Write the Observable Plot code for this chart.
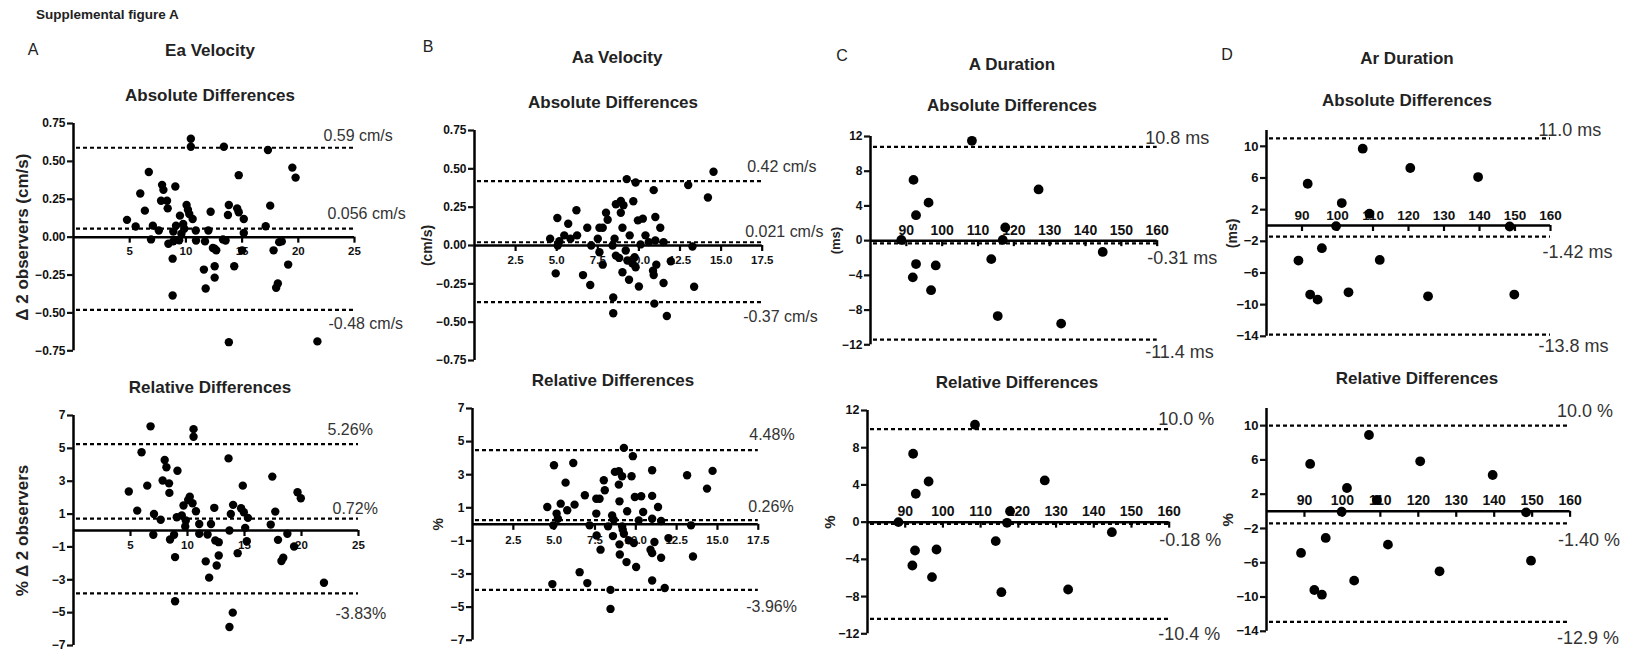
<!DOCTYPE html>
<html><head><meta charset="utf-8">
<script src="https://cdn.jsdelivr.net/npm/d3@7"></script>
<script src="https://cdn.jsdelivr.net/npm/@observablehq/plot@0.6"></script>
<style>
html,body{margin:0;padding:0;background:#fff;overflow:hidden;}
#fig{position:relative;width:1631px;height:653px;overflow:hidden;font-family:"Liberation Sans",Arial,sans-serif;color:#222;}
.lbl{position:absolute;transform:translate(-50%,-50%);white-space:nowrap;line-height:1;}
.panel{position:absolute;}
.panel svg{max-width:none !important;}
</style></head><body><div id="fig"></div>
<script>
// ---------- DATA ----------
// Ea Velocity – absolute differences (x: mean of 2 observers, y: difference cm/s)
const eaAbsX = [10.44,10.44,13.38,17.3,19.47,19.76,6.7,14.7,7.88,8.0,9.06,5.94,7.79,8.32,6.35,8.38,10.06,10.18,13.82,14.56,17.5,14.7,12.2,13.74,15.15,10.3,9.47,10.6,4.76,5.53,7.06,7.59,9.12,9.76,9.85,8.88,10.88,12.0,17.1,15.15,6.9,9.6,10.9,11.7,8.44,8.88,13.53,13.3,12.4,12.7,12.56,15.0,17.8,18.53,18.3,8.82,11.6,12.56,12.56,14.3,11.76,18.18,18.03,19.1,8.82,13.82,21.7,9.4];
const eaAbsY = [0.649,0.597,0.597,0.575,0.459,0.393,0.43,0.409,0.345,0.312,0.334,0.288,0.24,0.24,0.175,0.19,0.212,0.181,0.212,0.19,0.208,0.164,0.168,0.146,0.12,0.153,0.142,0.12,0.114,0.07,0.076,0.044,0.076,0.087,0.055,0.037,0.044,0.044,0.072,0.028,-0.015,0.022,-0.022,-0.028,-0.044,-0.028,-0.022,-0.015,-0.072,-0.087,-0.076,-0.087,-0.087,-0.028,-0.033,-0.142,-0.214,-0.192,-0.267,-0.192,-0.339,-0.306,-0.334,-0.181,-0.385,-0.693,-0.688,-0.02];
// Ea Velocity – relative differences (%)
const eaRelX = [6.76,10.53,10.53,5.97,13.6,8.0,8.15,9.12,6.47,7.82,8.38,8.41,17.44,14.85,4.85,19.65,19.94,10.2,10.06,10.44,9.65,10.74,5.59,7.06,12.35,14.0,14.7,14.94,15.3,13.8,17.7,17.3,7.65,9.06,9.5,9.85,9.8,11.03,12.06,15.06,13.68,7.0,8.82,11.03,11.76,8.47,12.44,12.74,15.2,17.94,18.76,19.35,14.4,12.74,8.91,11.6,12.56,18.4,18.24,11.9,21.97,8.91,13.97,13.68];
const eaRelY = [6.34,6.17,5.71,4.76,4.39,4.29,3.85,3.64,2.73,3.04,2.87,2.29,3.28,2.73,2.37,2.33,1.96,2.06,1.86,1.66,1.52,1.17,1.21,1.01,1.38,1.56,1.36,1.11,0.77,1.01,1.15,0.36,0.65,0.81,0.91,0.61,0.24,0.40,0.40,0.16,0.0,-0.26,-0.26,-0.2,-0.24,-0.55,-0.61,-0.71,-0.65,-0.57,-0.2,-0.97,-1.38,-1.52,-1.62,-1.88,-2.13,-1.66,-1.86,-2.87,-3.18,-4.31,-5.0,-5.87];
// Aa Velocity – absolute differences
const aaAbsX = [14.54,9.26,9.8,13.0,10.9,14.2,8.6,8.9,9.06,9.66,8.9,6.2,5.04,8.0,8.1,5.7,6.86,7.6,7.8,9.0,9.94,10.24,11.0,11.3,9.44,10.4,11.0,4.6,5.16,5.46,5.84,6.24,5.06,7.5,7.1,8.52,8.4,10.1,10.6,11.5,13.26,7.6,7.8,8.6,8.8,9.2,9.3,9.6,9.74,9.0,9.4,10.0,4.94,6.6,7.04,11.06,10.9,10.86,11.94,11.5,13.36,8.44,10.94,8.44,11.7,9.8];
const aaAbsY = [0.481,0.433,0.411,0.394,0.361,0.313,0.269,0.291,0.263,0.289,0.214,0.23,0.179,0.214,0.168,0.142,0.116,0.116,0.116,0.116,0.164,0.175,0.186,0.116,0.066,0.066,0.033,0.044,0.028,0.066,0.044,0.066,0.0,0.044,0.0,0.044,0.0,0.007,0.022,0.022,-0.007,-0.044,-0.125,-0.066,-0.081,-0.033,-0.098,-0.116,-0.077,-0.175,-0.223,-0.267,-0.182,-0.193,-0.258,-0.125,-0.193,-0.164,-0.103,-0.245,-0.269,-0.339,-0.379,-0.442,-0.46,-0.142];
// Aa Velocity – relative differences
const aaRelX = [9.27,9.82,4.99,6.17,14.7,13.14,11.0,8.72,8.96,9.16,9.74,8.96,14.36,5.7,8.04,8.1,6.88,7.58,7.78,9.94,10.33,11.0,4.58,5.4,5.8,6.25,9.0,11.36,5.15,5.23,7.58,8.55,9.47,10.45,8.65,11.0,10.18,11.55,4.95,7.17,8.3,9.16,13.38,7.6,8.6,9.27,9.57,9.0,9.88,12.0,7.84,11.14,10.9,11.0,9.02,9.43,10.02,11.55,13.5,6.56,7.03,4.89,11.0,11.77,8.45,8.45,9.2];
const aaRelY = [4.62,4.12,3.57,3.71,3.23,2.97,3.27,3.17,3.21,2.91,2.91,2.40,2.16,2.52,2.66,2.06,1.76,1.55,1.55,1.65,1.70,1.72,1.05,1.25,0.85,1.19,1.39,1.05,0.65,0.34,0.65,0.54,0.79,0.75,0.28,0.34,0.24,0.20,-0.06,-0.06,-0.12,-0.12,-0.06,-0.67,-0.71,-0.57,-0.97,-1.21,-1.13,-0.83,-1.53,-1.07,-1.53,-1.74,-1.82,-2.28,-2.58,-2.02,-1.94,-2.89,-3.55,-3.61,-3.39,-3.85,-3.96,-5.11,-0.32];
// A Duration
const aDurAbsX = [108.3,92.0,96.2,92.7,126.9,88.6,117.6,116.9,92.7,98.2,91.8,96.9,113.7,115.5,133.2,144.8];
const aDurAbsY = [11.5,7.0,4.38,2.93,5.9,0.08,1.52,0.08,-2.7,-2.86,-4.23,-5.71,-2.13,-8.69,-9.56,-1.3];
const aDurRelX = [108.5,92.1,96.2,92.8,127.0,88.2,117.8,117.0,92.6,98.3,91.9,97.1,114.0,115.5,133.2,144.8];
const aDurRelY = [10.47,7.35,4.37,3.05,4.48,0.0,1.18,-0.07,-3.05,-2.94,-4.66,-5.91,-2.04,-7.53,-7.24,-1.08];
// Ar Duration
const arDurAbsX = [107.1,120.5,139.6,91.6,101.2,109.0,99.6,148.5,95.6,89.0,111.9,92.3,94.4,103.1,125.5,149.8];
const arDurAbsY = [9.7,7.26,6.12,5.27,2.83,1.48,-0.08,-0.13,-2.87,-4.43,-4.35,-8.73,-9.37,-8.44,-8.95,-8.73];
const arDurRelX = [107.0,120.5,139.6,91.5,101.2,109.1,99.8,148.4,95.6,89.1,112.0,92.6,94.6,103.1,125.6,149.7];
const arDurRelY = [8.91,5.84,4.24,5.53,2.72,1.32,-0.04,-0.12,-3.11,-4.86,-3.89,-9.18,-9.73,-8.09,-7.0,-5.76];

// Limits of agreement (upper, bias, lower)
const eaAbsLimits = [0.59, 0.056, -0.48];
const eaAbsLimitLabels = ["0.59 cm/s", "0.056 cm/s", "-0.48 cm/s"];
const eaRelLimits = [5.26, 0.72, -3.83];
const eaRelLimitLabels = ["5.26%", "0.72%", "-3.83%"];
const aaAbsLimits = [0.42, 0.021, -0.37];
const aaAbsLimitLabels = ["0.42 cm/s", "0.021 cm/s", "-0.37 cm/s"];
const aaRelLimits = [4.48, 0.26, -3.96];
const aaRelLimitLabels = ["4.48%", "0.26%", "-3.96%"];
const aDurAbsLimits = [10.8, -0.31, -11.4];
const aDurAbsLimitLabels = ["10.8 ms", "-0.31 ms", "-11.4 ms"];
const aDurRelLimits = [10.0, -0.18, -10.4];
const aDurRelLimitLabels = ["10.0 %", "-0.18 %", "-10.4 %"];
const arDurAbsLimits = [11.0, -1.42, -13.8];
const arDurAbsLimitLabels = ["11.0 ms", "-1.42 ms", "-13.8 ms"];
const arDurRelLimits = [10.0, -1.40, -12.9];
const arDurRelLimitLabels = ["10.0 %", "-1.40 %", "-12.9 %"];

// Ticks
const velAbsYTicks = [-0.75, -0.5, -0.25, 0, 0.25, 0.5, 0.75];
const velRelYTicks = [-7, -5, -3, -1, 1, 3, 5, 7];
const eaXTicks = [5, 10, 15, 20, 25];
const aaXTicks = [2.5, 5, 7.5, 10, 12.5, 15, 17.5];
const durXTicks = [90, 100, 110, 120, 130, 140, 150, 160];
const aDurYTicks = [-12, -8, -4, 0, 4, 8, 12];
const arDurYTicks = [-14, -10, -6, -2, 2, 6, 10];

// Titles
const columnLetters = ["A", "B", "C", "D"];
const columnTitles = ["Ea Velocity", "Aa Velocity", "A Duration", "Ar Duration"];
const rowTitles = ["Absolute Differences", "Relative Differences"];
const figureTitle = "Supplemental figure A";

// ---------- LAYOUT ----------
const f2 = d3.format(".2f"), f1 = d3.format(".1f"), f0 = d3.format("d");
const panels = [
  {xs: eaAbsX, ys: eaAbsY, xDomain: [0, 25], yDomain: [-0.75, 0.75], xTicks: eaXTicks, xFmt: f0, yTicks: velAbsYTicks, yFmt: f2,
   limits: eaAbsLimits, limitLabels: eaAbsLimitLabels, yTitle: "Δ 2 observers (cm/s)",
   L: {x0: 73, x1: 354, yTop: 122.7, yBot: 350, r: 4.2, xDy: 14, xFs: 11.5, yFs: 12, limFs: 16, limDx: [-31, -27, -26], limDy: [-12, -15, 14], tDx: -51, tFs: 17}},
  {xs: eaRelX, ys: eaRelY, xDomain: [0, 25], yDomain: [-7, 7], xTicks: eaXTicks, xFmt: f0, yTicks: velRelYTicks, yFmt: f0,
   limits: eaRelLimits, limitLabels: eaRelLimitLabels, yTitle: "% Δ 2 observers",
   L: {x0: 73, x1: 358, yTop: 415, yBot: 645, r: 4.2, xDy: 15, xFs: 11.5, yFs: 12, limFs: 16, limDx: [-31, -26, -23], limDy: [-14, -10, 20], tDx: -51, tFs: 17}},
  {xs: aaAbsX, ys: aaAbsY, xDomain: [0, 17.5], yDomain: [-0.75, 0.75], xTicks: aaXTicks, xFmt: f1, yTicks: velAbsYTicks, yFmt: f2,
   limits: aaAbsLimits, limitLabels: aaAbsLimitLabels, yTitle: "(cm/s)",
   L: {x0: 474, x1: 761.7, yTop: 130, yBot: 360, r: 4.2, xDy: 15, xFs: 11.5, yFs: 12, limFs: 16, limDx: [-15, -17, -19], limDy: [-14, -10, 15], tDx: -47, tFs: 14}},
  {xs: aaRelX, ys: aaRelY, xDomain: [0, 17.5], yDomain: [-7, 7], xTicks: aaXTicks, xFmt: f1, yTicks: velRelYTicks, yFmt: f0,
   limits: aaRelLimits, limitLabels: aaRelLimitLabels, yTitle: "%",
   L: {x0: 471.9, x1: 757.7, yTop: 408.3, yBot: 640, r: 4.2, xDy: 15.5, xFs: 11.5, yFs: 12, limFs: 16, limDx: [-9, -10, -12], limDy: [-15, -13, 17], tDx: -34, tFs: 14}},
  {xs: aDurAbsX, ys: aDurAbsY, xDomain: [80, 160], yDomain: [-12, 12], xTicks: durXTicks, xFmt: f0, yTicks: aDurYTicks, yFmt: f0,
   limits: aDurAbsLimits, limitLabels: aDurAbsLimitLabels, yTitle: "(ms)",
   L: {x0: 870, x1: 1156.7, yTop: 135.7, yBot: 344, r: 4.9, xDy: -10, xFs: 14, yFs: 12, limFs: 18, limDx: [-12, -10, -12], limDy: [-9, 15, 13], tDx: -35, tFs: 13}},
  {xs: aDurRelX, ys: aDurRelY, xDomain: [80, 160], yDomain: [-12, 12], xTicks: durXTicks, xFmt: f0, yTicks: aDurYTicks, yFmt: f0,
   limits: aDurRelLimits, limitLabels: aDurRelLimitLabels, yTitle: "%",
   L: {x0: 866.6, x1: 1168.3, yTop: 410, yBot: 633.3, r: 4.9, xDy: -11, xFs: 14, yFs: 12.5, limFs: 18, limDx: [-11, -10, -11], limDy: [-10, 16, 15], tDx: -37, tFs: 15}},
  {xs: arDurAbsX, ys: arDurAbsY, xDomain: [80, 160], yDomain: [-14, 12], xTicks: durXTicks, xFmt: f0, yTicks: arDurYTicks, yFmt: f0,
   limits: arDurAbsLimits, limitLabels: arDurAbsLimitLabels, yTitle: "(ms)",
   L: {x0: 1266, x1: 1550, yTop: 130.2, yBot: 336, r: 4.9, xDy: -10, xFs: 13.5, yFs: 13, limFs: 18, limDx: [-12, -8, -12], limDy: [-8, 15.5, 12], tDx: -34, tFs: 14}},
  {xs: arDurRelX, ys: arDurRelY, xDomain: [80, 160], yDomain: [-14, 12], xTicks: durXTicks, xFmt: f0, yTicks: arDurYTicks, yFmt: f0,
   limits: arDurRelLimits, limitLabels: arDurRelLimitLabels, yTitle: "%",
   L: {x0: 1266.4, x1: 1570, yTop: 407.9, yBot: 630.7, r: 4.9, xDy: -11, xFs: 14, yFs: 13, limFs: 18, limDx: [-13, -12, -13], limDy: [-14, 17, 16], tDx: -38, tFs: 15}}
];

const fig = document.getElementById("fig");
const mL = 70, mR = 85, mT = 20, mB = 30;

for (const p of panels) {
  const L = p.L;
  const data = p.xs.map((x, i) => ({x, y: p.ys[i]}));
  const W = mL + (L.x1 - L.x0) + mR, H = mT + (L.yBot - L.yTop) + mB;
  const chart = Plot.plot({
    width: W,
    height: H,
    marginLeft: mL, marginRight: mR, marginTop: mT, marginBottom: mB,
    x: {domain: p.xDomain, axis: null},
    y: {domain: p.yDomain, axis: null},
    style: {background: "transparent", overflow: "visible", maxWidth: "none", fontFamily: "'Liberation Sans', Arial, sans-serif"},
    marks: [
      Plot.ruleX([p.xDomain[0]], {strokeWidth: 2.5, stroke: "#000"}),
      Plot.axisY({ticks: p.yTicks, tickFormat: p.yFmt, tickSize: 6, tickPadding: 2, strokeWidth: 2.2,
                  fontSize: L.yFs, fontWeight: "bold", color: "#111", label: null}),
      Plot.ruleY([0], {strokeWidth: 2.5, stroke: "#000"}),
      Plot.ruleX(p.xTicks, {x: d => d, y1: 0, y2: 0, insetBottom: -6, strokeWidth: 2.2, stroke: "#000"}),
      Plot.text(p.xTicks, {x: d => d, y: 0, dy: L.xDy, text: p.xFmt, fontSize: L.xFs, fontWeight: "bold", fill: "#111"}),
      Plot.ruleY(p.limits, {strokeWidth: 2.2, strokeDasharray: "4,3", insetLeft: 3, stroke: "#000"}),
      ...p.limits.map((v, i) => Plot.text([v], {y: d => d, frameAnchor: "right", textAnchor: "start",
          text: () => p.limitLabels[i], dx: L.limDx[i], dy: L.limDy[i], fontSize: L.limFs, fill: "#333"})),
      Plot.text([p.yTitle], {frameAnchor: "left", textAnchor: "middle", rotate: -90, dx: L.tDx, text: d => d,
          fontSize: L.tFs, fontWeight: "bold", fill: "#222"}),
      Plot.dot(data, {x: "x", y: "y", r: L.r, fill: "#000"})
    ]
  });
  const div = document.createElement("div");
  div.className = "panel";
  div.style.left = (L.x0 - mL) + "px";
  div.style.top = (L.yTop - mT) + "px";
  div.style.width = W + "px";
  div.style.height = H + "px";
  div.appendChild(chart);
  fig.appendChild(div);
}

function label(text, x, y, css) {
  const d = document.createElement("div");
  d.className = "lbl";
  d.textContent = text;
  d.style.left = x + "px";
  d.style.top = y + "px";
  Object.assign(d.style, css);
  fig.appendChild(d);
}
// figure title
const t = document.createElement("div");
t.textContent = figureTitle;
Object.assign(t.style, {position: "absolute", left: "36px", top: "7px", fontSize: "13.5px", fontWeight: "bold", color: "#222", whiteSpace: "nowrap"});
fig.appendChild(t);

const letterPos = [[33, 50], [428, 47], [842, 56], [1227, 55]];
const colTitlePos = [[210, 50], [617, 57], [1012, 64], [1407, 58]];
const absPos = [[210, 95], [613, 102], [1012, 105], [1407, 100]];
const relPos = [[210, 387], [613, 380], [1017, 382], [1417, 378]];
columnLetters.forEach((s, i) => label(s, letterPos[i][0], letterPos[i][1], {fontSize: "16px", color: "#222"}));
columnTitles.forEach((s, i) => label(s, colTitlePos[i][0], colTitlePos[i][1], {fontSize: "17px", fontWeight: "bold", color: "#222"}));
absPos.forEach(([x, y]) => label(rowTitles[0], x, y, {fontSize: "17px", fontWeight: "bold", color: "#222"}));
relPos.forEach(([x, y]) => label(rowTitles[1], x, y, {fontSize: "17px", fontWeight: "bold", color: "#222"}));
</script></body></html>
